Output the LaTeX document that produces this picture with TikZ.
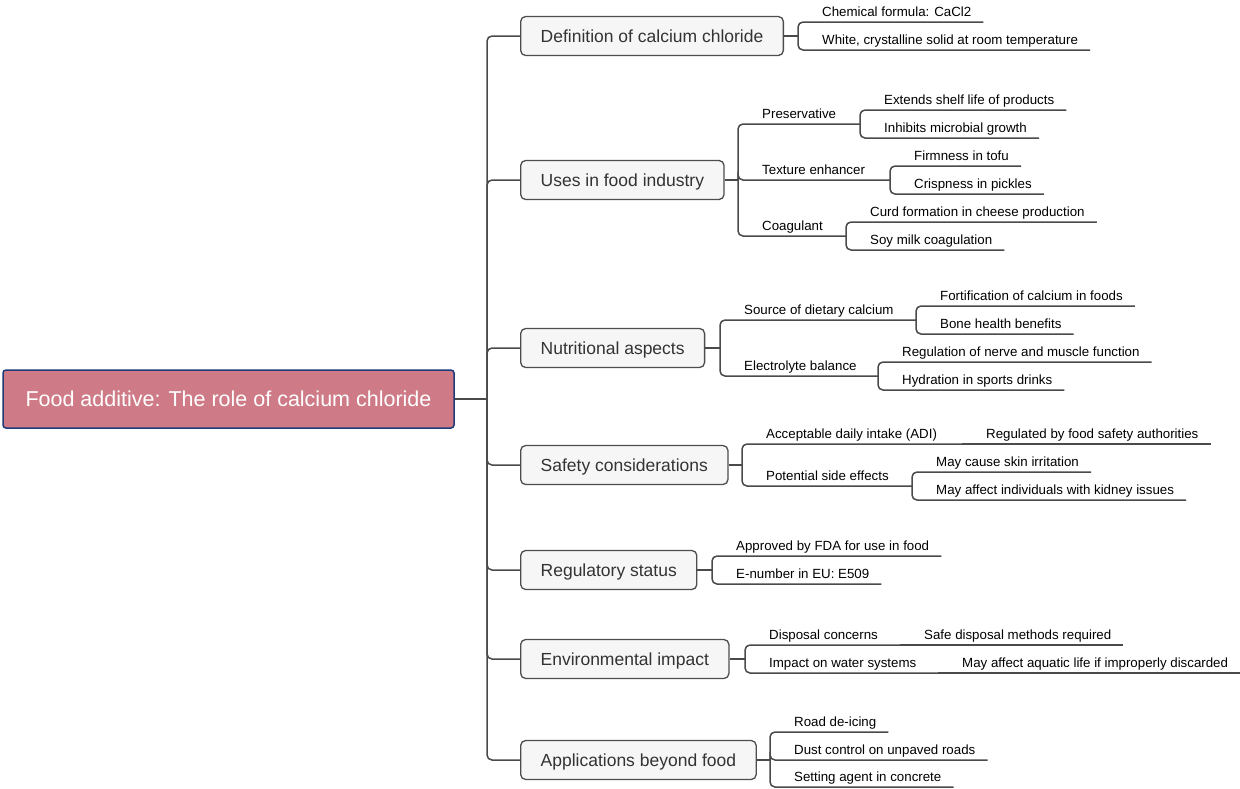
\documentclass[tikz,border=0pt]{standalone}
\usepackage{fontspec}
\setmainfont{Liberation Sans}
\definecolor{rootfill}{HTML}{CF7B87}
\definecolor{rootline}{HTML}{1F3A78}
\definecolor{boxfill}{HTML}{F6F6F6}
\definecolor{boxline}{HTML}{4D4D4D}
\definecolor{linkcol}{HTML}{4A4A4A}
\definecolor{boxtext}{HTML}{333333}
\begin{document}
\begin{tikzpicture}[x=1pt,y=-1pt,
root/.style={draw=rootline,line width=1.5pt,fill=rootfill,rounded corners=3pt,minimum width=451pt,minimum height=58pt,text height=16.4pt,text depth=2.4pt,text=white,font=\fontsize{21.5}{26}\selectfont},
branch/.style={draw=boxline,line width=1.3pt,fill=boxfill,rounded corners=5pt,minimum height=39pt,inner xsep=20pt,text height=14.5pt,text depth=1.6pt,anchor=west,text=boxtext,font=\fontsize{17.5}{21}\selectfont},
leaf/.style={anchor=south west,inner xsep=12pt,inner ysep=5pt,text depth=0pt,font=\fontsize{13.3}{16}\selectfont},
link/.style={draw=linkcol,line width=1.5pt,rounded corners=5pt}]
\useasboundingbox (0,0) rectangle (1240,788);
\node[root] (root) at (228.5,399) {Food additive: The role of calcium chloride};
\coordinate (hub) at (487,399);
\node[branch] (b1) at (520,36) {Definition of calcium chloride};
\node[branch] (b2) at (520,180) {Uses in food industry};
\node[branch] (b3) at (520,348) {Nutritional aspects};
\node[branch] (b4) at (520,465) {Safety considerations};
\node[branch] (b5) at (520,570) {Regulatory status};
\node[branch] (b6) at (520,659) {Environmental impact};
\node[branch] (b7) at (520,760) {Applications beyond food};
% branch spines
\coordinate (s1) at (798,36);
\coordinate (s2) at (738,180);
\coordinate (s21) at (860,124);
\coordinate (s22) at (890,180);
\coordinate (s23) at (846,236);
\coordinate (s3) at (720,348);
\coordinate (s31) at (916,320);
\coordinate (s32) at (878,376);
\coordinate (s4) at (742,465);
\coordinate (s41) at (962,444);
\coordinate (s42) at (912,486);
\coordinate (s5) at (712,570);
\coordinate (s6) at (745,659);
\coordinate (s61) at (900,645);
\coordinate (s62) at (938,673);
\coordinate (s7) at (770,760);
% definition
\node[leaf] (c11) at (810,22) {Chemical formula: CaCl2};
\node[leaf] (c12) at (810,50) {White, crystalline solid at room temperature};
% uses
\node[leaf] (p21) at (750,124) {Preservative};
\node[leaf] (c211) at (872,110) {Extends shelf life of products};
\node[leaf] (c212) at (872,138) {Inhibits microbial growth};
\node[leaf] (p22) at (750,180) {Texture enhancer};
\node[leaf] (c221) at (902,166) {Firmness in tofu};
\node[leaf] (c222) at (902,194) {Crispness in pickles};
\node[leaf] (p23) at (750,236) {Coagulant};
\node[leaf] (c231) at (858,222) {Curd formation in cheese production};
\node[leaf] (c232) at (858,250) {Soy milk coagulation};
% nutrition
\node[leaf] (p31) at (732,320) {Source of dietary calcium};
\node[leaf] (c311) at (928,306) {Fortification of calcium in foods};
\node[leaf] (c312) at (928,334) {Bone health benefits};
\node[leaf] (p32) at (732,376) {Electrolyte balance};
\node[leaf] (c321) at (890,362) {Regulation of nerve and muscle function};
\node[leaf] (c322) at (890,390) {Hydration in sports drinks};
% safety
\node[leaf] (p41) at (754,444) {Acceptable daily intake (ADI)};
\node[leaf] (c411) at (974,444) {Regulated by food safety authorities};
\node[leaf] (p42) at (754,486) {Potential side effects};
\node[leaf] (c421) at (924,472) {May cause skin irritation};
\node[leaf] (c422) at (924,500) {May affect individuals with kidney issues};
% regulatory
\node[leaf] (c51) at (724,556) {Approved by FDA for use in food};
\node[leaf] (c52) at (724,584) {E-number in EU: E509};
% environment
\node[leaf] (p61) at (757,645) {Disposal concerns};
\node[leaf] (c611) at (912,645) {Safe disposal methods required};
\node[leaf] (p62) at (757,673) {Impact on water systems};
\node[leaf] (c621) at (950,673) {May affect aquatic life if improperly discarded};
% beyond food
\node[leaf] (c71) at (782,732) {Road de-icing};
\node[leaf] (c72) at (782,760) {Dust control on unpaved roads};
\node[leaf] (c73) at (782,787) {Setting agent in concrete};
% links
\draw[link] (root.east) -- (hub);
\draw[link] (hub) |- (b1.west);
\draw[link] (hub) |- (b2.west);
\draw[link] (hub) |- (b3.west);
\draw[link] (hub) |- (b4.west);
\draw[link] (hub) |- (b5.west);
\draw[link] (hub) |- (b6.west);
\draw[link] (hub) |- (b7.west);
\draw[link] (b1.east) -- (s1);
\draw[link] (s1) |- (c11.south east);
\draw[link] (s1) |- (c12.south east);
\draw[link] (b2.east) -- (s2);
\draw[link] (s2) |- (s21);
\draw[link] (s2) |- (s22);
\draw[link] (s2) |- (s23);
\draw[link] (s21) |- (c211.south east);
\draw[link] (s21) |- (c212.south east);
\draw[link] (s22) |- (c221.south east);
\draw[link] (s22) |- (c222.south east);
\draw[link] (s23) |- (c231.south east);
\draw[link] (s23) |- (c232.south east);
\draw[link] (b3.east) -- (s3);
\draw[link] (s3) |- (s31);
\draw[link] (s3) |- (s32);
\draw[link] (s31) |- (c311.south east);
\draw[link] (s31) |- (c312.south east);
\draw[link] (s32) |- (c321.south east);
\draw[link] (s32) |- (c322.south east);
\draw[link] (b4.east) -- (s4);
\draw[link] (s4) |- (s41);
\draw[link] (s4) |- (s42);
\draw[link] (s41) -- (c411.south east);
\draw[link] (s42) |- (c421.south east);
\draw[link] (s42) |- (c422.south east);
\draw[link] (b5.east) -- (s5);
\draw[link] (s5) |- (c51.south east);
\draw[link] (s5) |- (c52.south east);
\draw[link] (b6.east) -- (s6);
\draw[link] (s6) |- (s61);
\draw[link] (s6) |- (s62);
\draw[link] (s61) -- (c611.south east);
\draw[link] (s62) -- (c621.south east);
\draw[link] (b7.east) -- (s7);
\draw[link] (s7) |- (c71.south east);
\draw[link] (s7) |- (c72.south east);
\draw[link] (s7) |- (c73.south east);
\end{tikzpicture}
\end{document}
